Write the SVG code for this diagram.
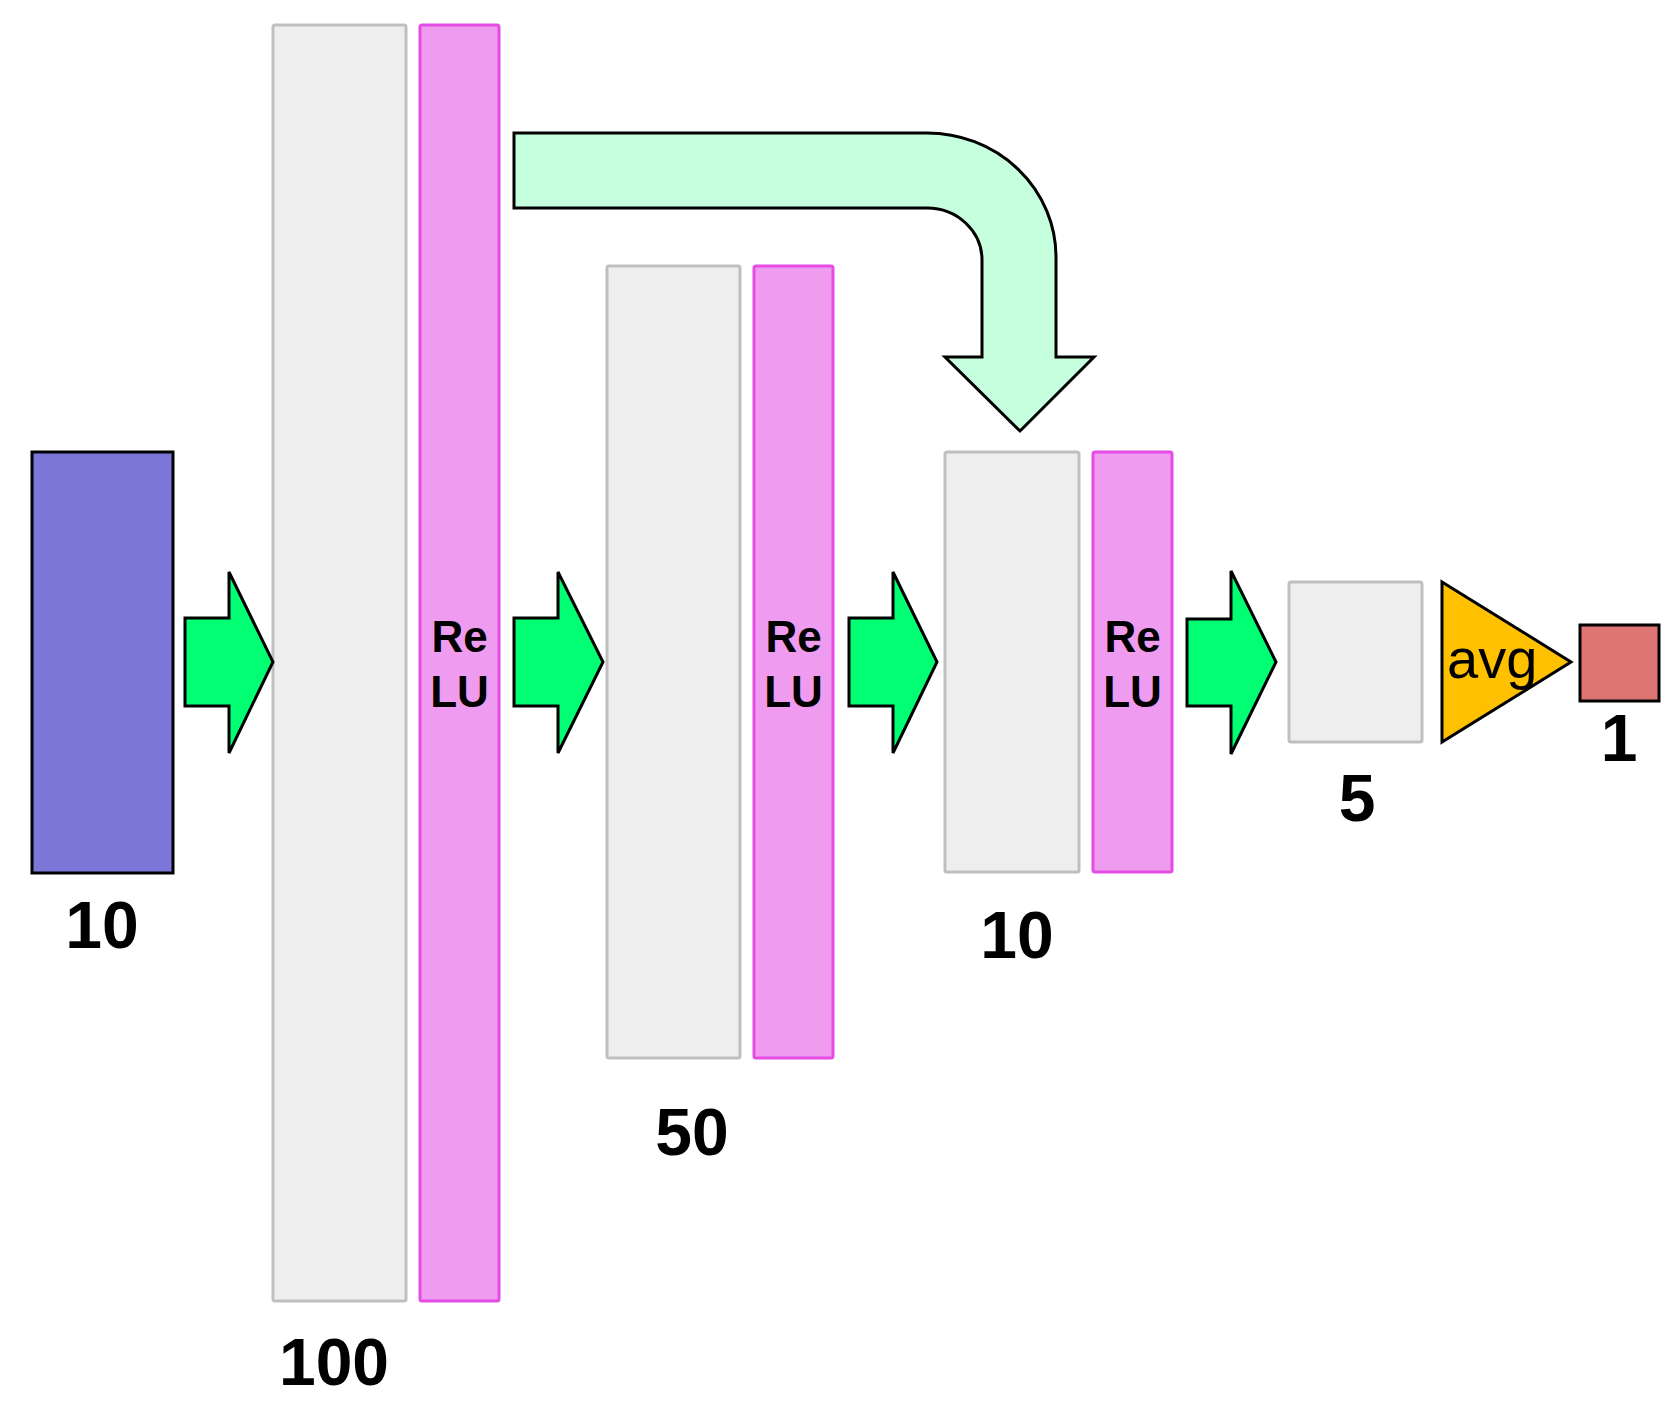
<svg xmlns="http://www.w3.org/2000/svg" width="1668" height="1412" viewBox="0 0 1668 1412">
<style>
.gray{fill:#EEEEEE;stroke:#BFBFBF;stroke-width:3}
.pink{fill:#EF9BEF;stroke:#E44CE4;stroke-width:3}
.garrow{fill:#00FF73;stroke:#000;stroke-width:3;stroke-linejoin:miter}
.lbl{font-family:"Liberation Sans",Arial,sans-serif;font-weight:bold;font-size:66px;fill:#000;text-anchor:middle}
.relu{font-family:"Liberation Sans",Arial,sans-serif;font-weight:bold;font-size:44px;fill:#000;text-anchor:middle}
</style>
<rect width="1668" height="1412" fill="#FFFFFF"/>
<g id="input">
<rect x="32" y="452" width="141" height="421" fill="#7B76D8" stroke="#000" stroke-width="3"/>
<text class="lbl" x="102" y="948">10</text>
</g>
<g id="fc100">
<rect class="gray" x="273" y="25" width="133" height="1276" rx="2"/>
<text class="lbl" x="334" y="1385">100</text>
</g>
<g id="relu1">
<rect class="pink" x="420" y="25" width="79" height="1276" rx="2"/>
<text class="relu" x="459.5" y="652">Re</text>
<text class="relu" x="459.5" y="707">LU</text>
</g>
<g id="fc50">
<rect class="gray" x="607" y="266" width="133" height="792" rx="2"/>
<text class="lbl" x="692" y="1155">50</text>
</g>
<g id="relu2">
<rect class="pink" x="754" y="266" width="79" height="792" rx="2"/>
<text class="relu" x="793.5" y="652">Re</text>
<text class="relu" x="793.5" y="707">LU</text>
</g>
<g id="fc10">
<rect class="gray" x="945" y="452" width="134" height="420" rx="2"/>
<text class="lbl" x="1017" y="958">10</text>
</g>
<g id="relu3">
<rect class="pink" x="1093" y="452" width="79" height="420" rx="2"/>
<text class="relu" x="1132.5" y="652">Re</text>
<text class="relu" x="1132.5" y="707">LU</text>
</g>
<g id="fc5">
<rect class="gray" x="1289" y="582" width="133" height="160" rx="2"/>
<text class="lbl" x="1357" y="821">5</text>
</g>
<g id="avg">
<polygon points="1442,582 1571,662 1442,742" fill="#FFC000" stroke="#000" stroke-width="3" stroke-linejoin="miter"/>
<text x="1447" y="678" font-family="'Liberation Sans',Arial,sans-serif" font-size="56" fill="#000">avg</text>
</g>
<g id="output">
<rect x="1580" y="625" width="79" height="76" fill="#DE7572" stroke="#000" stroke-width="3"/>
<text class="lbl" x="1619" y="761">1</text>
</g>
<g id="connectors">
<path class="garrow" d="M185,618 H229 V572 L273,662 L229,753 V706 H185 Z"/>
<path class="garrow" d="M514,618 H558 V572 L603,662 L558,753 V706 H514 Z"/>
<path class="garrow" d="M849,618 H893 V572 L937,662 L893,753 V706 H849 Z"/>
<path class="garrow" d="M1187,619 H1231 V571 L1276,662 L1231,754 V706 H1187 Z"/>
<path d="M514,133 L927,133 A129,124 0 0 1 1056,257 L1056,357 L1094,357 L1020,431 L945,357 L982,357 L982,260 A55,52 0 0 0 927,208 L514,208 Z" fill="#C6FFDD" stroke="#000" stroke-width="3" stroke-linejoin="miter"/>
</g>
</svg>
